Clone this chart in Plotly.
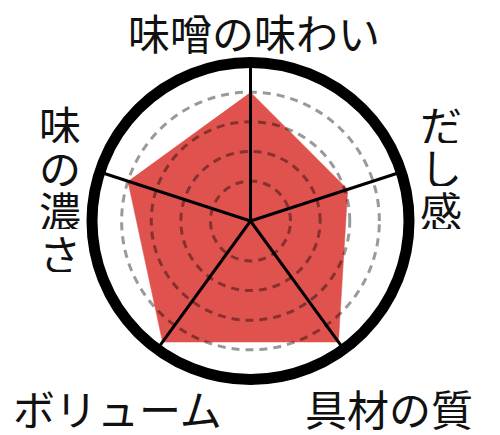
import plotly.graph_objects as go

# radar data (clockwise from top)
categories = ['味噌の味わい', 'だし感', '具材の質', 'ボリューム', '味の濃さ']
scores = [4.0, 3.1, 4.7, 4.7, 4.0]
grid_levels = [1, 2, 3, 4]

# page body keeps its default 8px margin, so the figure is placed at (8, 8)
OFF = 8
W, H = 500 - OFF, 435 - OFF
FONT = 'Noto Sans CJK JP'
FS = 42
RED = '#DF524E'

# label placement in window pixels: (x, y of first char, vertical?)
label_pos = {
    '味噌の味わい': (254, 31, False),
    'だし感': (441, 123, True),
    '具材の質': (389, 407, False),
    'ボリューム': (117, 407, False),
    '味の濃さ': (60, 123, True),
}
CHAR_PITCH = 43

# polar area: center (250.5, 221) px, outer radius 158.5 px
cx, cy, R = 250.5 - OFF, 221 - OFF, 158.5
domain = dict(
    x=[(cx - R) / W, (cx + R) / W],
    y=[(H - cy - R) / H, (H - cy + R) / H],
)
r_range = [-0.35, 5]

fig = go.Figure()
fig.add_trace(go.Scatterpolar(
    r=scores, theta=categories, fill='toself', fillcolor=RED,
    mode='lines', line=dict(color=RED, width=0.5),
    hoverinfo='skip', subplot='polar',
))
# invisible trace so the overlay subplot gets the same category axis
fig.add_trace(go.Scatterpolar(
    r=scores, theta=categories, mode='lines',
    line=dict(width=0), opacity=0,
    hoverinfo='skip', subplot='polar2',
))

angular_common = dict(rotation=90, direction='clockwise', showticklabels=False, ticks='')
radial_common = dict(range=r_range, showticklabels=False, ticks='', showline=False)

fig.update_layout(
    width=W, height=H,
    margin=dict(l=0, r=0, t=0, b=0),
    paper_bgcolor='white',
    showlegend=False,
    polar=dict(
        domain=domain, bgcolor='white',
        angularaxis=dict(**angular_common, showgrid=False, showline=False),
        radialaxis=dict(**radial_common, showgrid=False),
    ),
    polar2=dict(
        domain=domain, bgcolor='rgba(0,0,0,0)',
        angularaxis=dict(**angular_common, showgrid=True, gridcolor='black', gridwidth=3,
                         showline=True, linecolor='black', linewidth=11),
        radialaxis=dict(**radial_common, tickvals=grid_levels, showgrid=True,
                        gridcolor='rgba(0,0,0,0.4)', gridwidth=2.5, griddash='8px,6px'),
    ),
)

# axis labels (vertical ones stacked one character per line)
for name in categories:
    x, y, vertical = label_pos[name]
    parts = list(name) if vertical else [name]
    for i, txt in enumerate(parts):
        fig.add_annotation(
            text=txt, xref='paper', yref='paper',
            x=(x - OFF) / W, y=(H - (y - OFF) - i * CHAR_PITCH) / H,
            xanchor='center', yanchor='middle', showarrow=False,
            height=40 if vertical else 46, borderpad=0,
            font=dict(family=FONT, size=FS, color='#111111'),
        )

fig.write_html('out.html')
